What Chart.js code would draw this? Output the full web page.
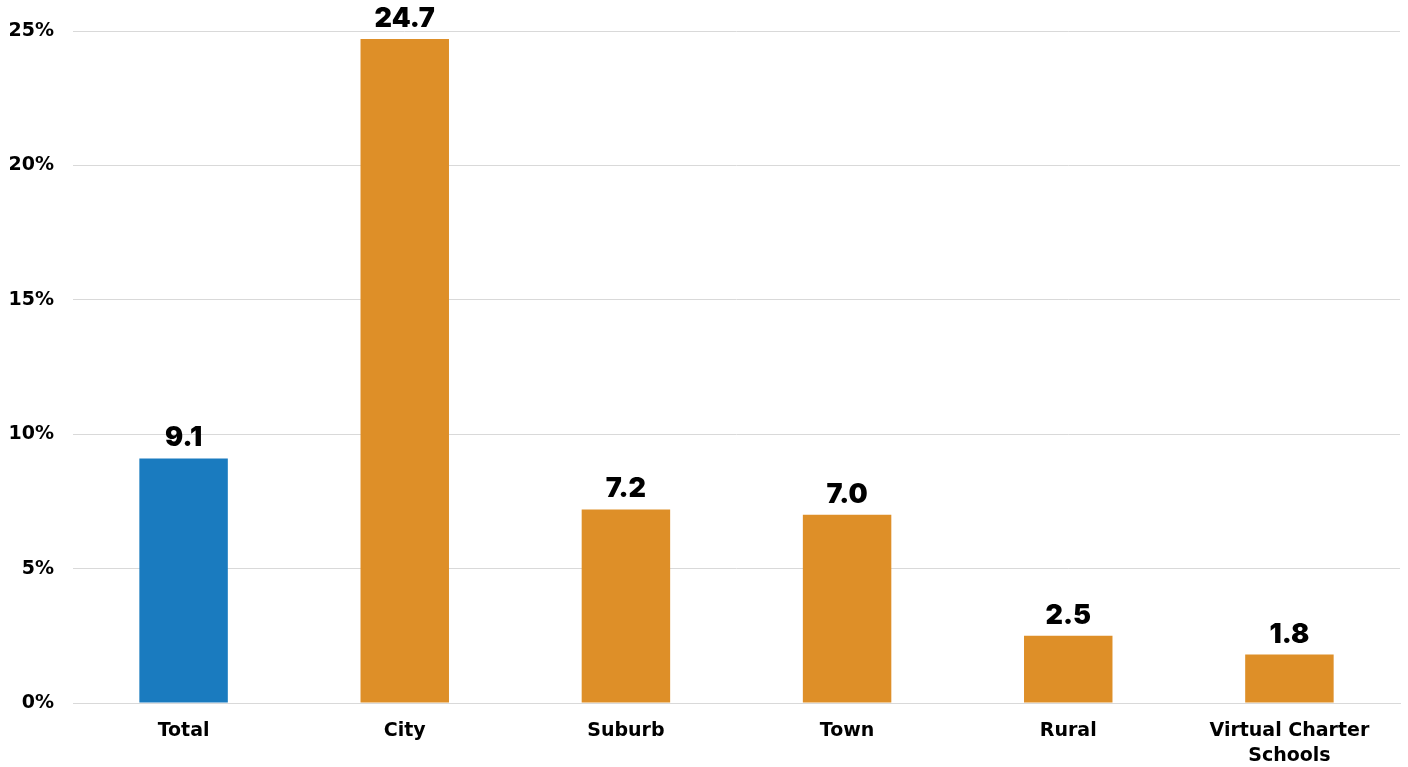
<!DOCTYPE html>
<html>
<head>
<meta charset="utf-8">
<script src="https://cdn.jsdelivr.net/npm/chart.js@4/dist/chart.umd.min.js"></script>
<style>
    html, body { margin: 0; padding: 0; background: #fff; }
    #wrap { width: 1408px; height: 767px; position: relative; }
</style>
</head>
<body>
<div id="wrap"><canvas id="barChart"></canvas></div>
<script>
const categories = ['Total', 'City', 'Suburb', 'Town', 'Rural', ['Virtual Charter', 'Schools']];
const values = [9.1, 24.7, 7.2, 7.0, 2.5, 1.8];
const barColors = ['#1a7bbf', '#de8f28', '#de8f28', '#de8f28', '#de8f28', '#de8f28'];
const yTicks = [0, 5, 10, 15, 20, 25];

const FONT = '"DejaVu Sans", Inter, sans-serif';

// Etichette valori sopra le barre
const valueLabels = {
    id: 'valueLabels',
    afterDatasetsDraw(chart) {
        const ctx = chart.ctx;
        const meta = chart.getDatasetMeta(0);
        ctx.save();
        ctx.font = '900 27px Inter, "DejaVu Sans", sans-serif';
        ctx.fillStyle = '#000';
        ctx.textAlign = 'center';
        ctx.textBaseline = 'alphabetic';
        meta.data.forEach((bar, i) => {
            ctx.fillText(values[i].toFixed(1), bar.x, bar.y - 12);
        });
        ctx.restore();
    }
};

new Chart(document.getElementById('barChart'), {
    type: 'bar',
    data: {
        labels: categories,
        datasets: [{
            data: values,
            backgroundColor: barColors,
            borderWidth: 0,
            categoryPercentage: 1,
            barPercentage: 0.4
        }]
    },
    options: {
        responsive: true,
        maintainAspectRatio: false,
        animation: false,
        layout: { padding: { top: 31, right: 8, bottom: 0, left: 0 } },
        plugins: {
            legend: { display: false },
            tooltip: { enabled: false }
        },
        scales: {
            x: {
                grid: { display: false, drawTicks: false },
                border: { color: '#d9d9d9', width: 1 },
                ticks: {
                    color: '#000',
                    padding: 15,
                    maxRotation: 0,
                    font: { family: FONT, size: 19, weight: 'bold', lineHeight: 1.35 }
                },
                afterFit(scale) { scale.height = 64; }
            },
            y: {
                min: 0,
                max: 25,
                afterBuildTicks(scale) { scale.ticks = yTicks.map(v => ({ value: v })); },
                grid: { color: '#d9d9d9', drawTicks: false },
                border: { display: false },
                ticks: {
                    color: '#000',
                    padding: 19,
                    callback: v => v + '%',
                    font: { family: FONT, size: 19, weight: 'bold' }
                },
                afterFit(scale) { scale.width = 73; }
            }
        }
    },
    plugins: [valueLabels]
});
</script>
</body>
</html>
